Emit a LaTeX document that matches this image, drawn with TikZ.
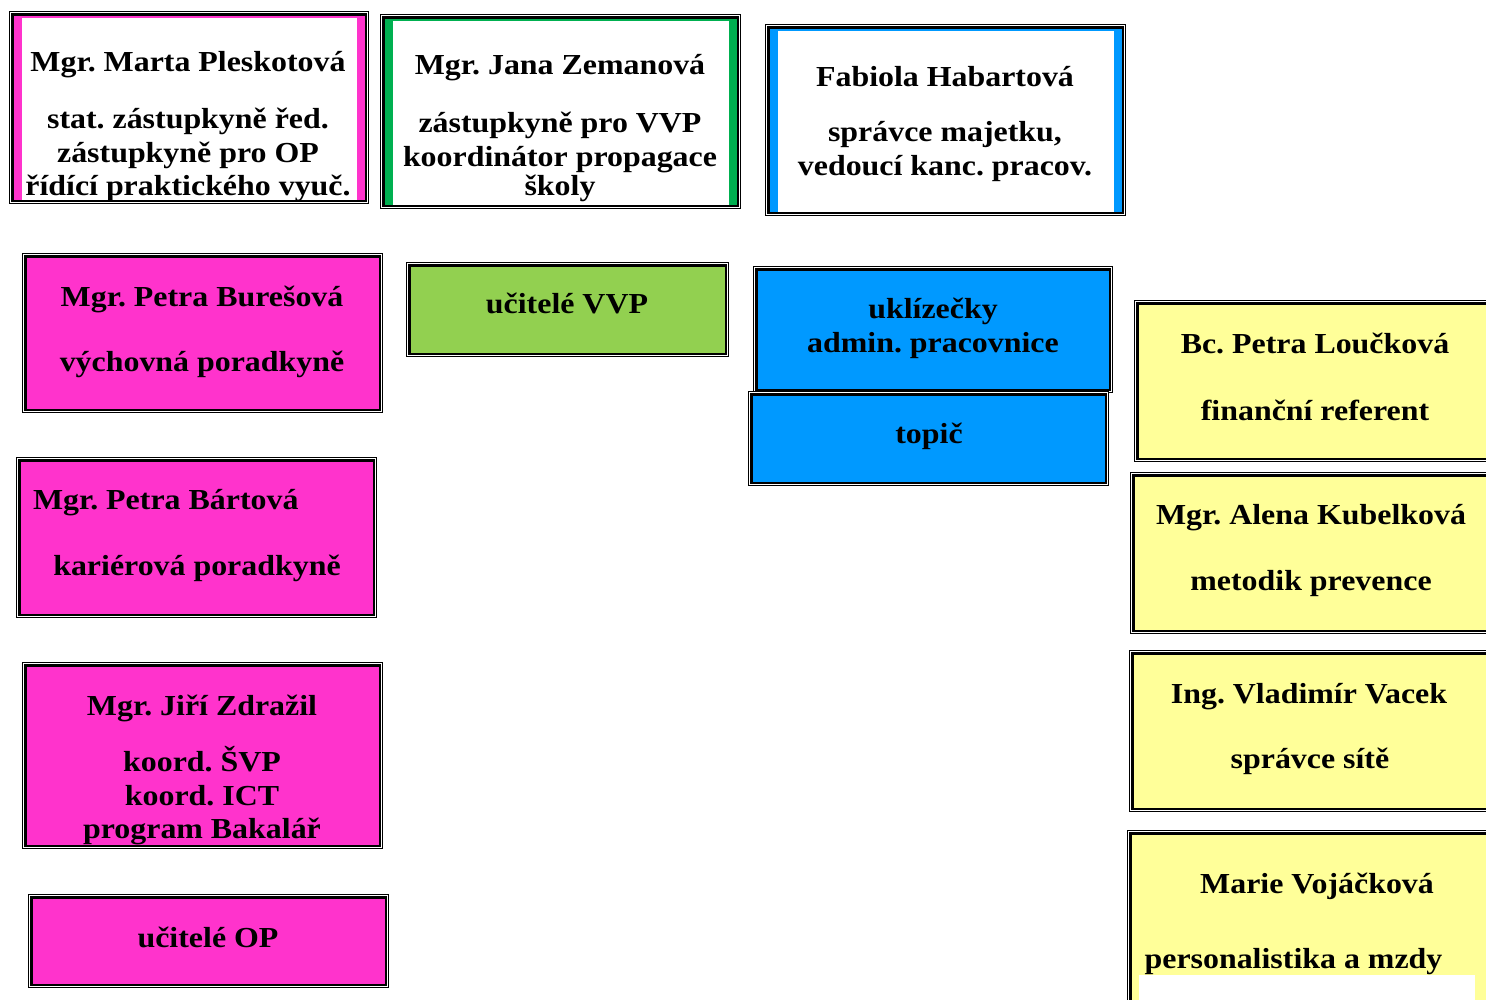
\documentclass[tikz,border=0pt]{standalone}
\usepackage{fontspec}
\setmainfont{Liberation Serif}[FakeStretch=1.1]
\frenchspacing
\definecolor{opink}{HTML}{FF33CC}
\definecolor{ogreen}{HTML}{92D050}
\definecolor{dgreen}{HTML}{00B050}
\definecolor{oblue}{HTML}{0099FF}
\definecolor{oyellow}{HTML}{FFFF99}
\tikzset{
  frame/.style={draw=black, line width=2.5pt, inner sep=0pt, outer sep=0pt},
  thinframe/.style={draw=black, line width=1pt, fill=white},
  txt/.style={inner sep=0pt, outer sep=0pt, anchor=base, font=\fontsize{29}{33}\selectfont\bfseries\frenchspacing},
}
\newcommand\orgbox[6]{%
  \draw[thinframe] ({#2+0.5},{#3+0.5}) rectangle ({#4-0.5},{#5-0.5});
  \node[frame, fill=#6, minimum width={#4-#2-6.5}, minimum height={#5-#3-6.5}] (#1) at ({(#2+#4)/2},{(#3+#5)/2}) {};
}
\newcommand\stripes[5]{%
  \fill[#5] ({#1+4.5},{#2+4.5}) rectangle ({#1+12.5},{#4-4.5});
  \fill[#5] ({#3-12.5},{#2+4.5}) rectangle ({#3-4.5},{#4-4.5});
  \fill[#5] ({#1+4.5},{#2+4.5}) rectangle ({#3-4.5},{#2+6.5});
}
\begin{document}
\begin{tikzpicture}[x=1pt,y=-1pt]
\useasboundingbox (0,0) rectangle (1486,999);
\clip (0,0) rectangle (1486,999);
% top row
\orgbox{b1}{9}{11}{369}{204}{white}
\stripes{9}{11}{369}{204}{opink}
\orgbox{b2}{380}{14}{741}{209}{white}
\stripes{380}{14}{741}{209}{dgreen}
\orgbox{b3}{765}{24}{1126}{216}{white}
\stripes{765}{24}{1126}{216}{oblue}
% left column
\orgbox{b4}{22}{253}{383}{413}{opink}
\orgbox{b5}{16}{457}{377}{618}{opink}
\orgbox{b6}{22}{662}{383}{849}{opink}
\orgbox{b7}{28}{894}{389}{988}{opink}
% middle
\orgbox{b8}{406}{262}{729}{357}{ogreen}
\orgbox{b9}{753}{266}{1113}{393}{oblue}
\orgbox{b10}{748}{391}{1109}{486}{oblue}
% right column
\orgbox{b11}{1134}{300}{1500}{462}{oyellow}
\orgbox{b12}{1130}{472}{1500}{634}{oyellow}
\orgbox{b13}{1129}{650}{1500}{812}{oyellow}
\orgbox{b14}{1127}{830}{1500}{1010}{oyellow}

% texts
\node[txt] (t1a) at (188,71) {Mgr. Marta Pleskotová};
\node[txt] (t1b) at (188,128) {stat. zástupkyně řed.};
\node[txt] (t1c) at (188,162) {zástupkyně pro OP};
\node[txt] (t1d) at (188,195) {řídící praktického vyuč.};

\node[txt] (t2a) at (560,74) {Mgr. Jana Zemanová};
\node[txt] (t2b) at (560,132) {zástupkyně pro VVP};
\node[txt] (t2c) at (560,166) {koordinátor propagace};
\node[txt] (t2d) at (560,195) {školy};

\node[txt] (t3a) at (945,86) {Fabiola Habartová};
\node[txt] (t3b) at (945,141) {správce majetku,};
\node[txt] (t3c) at (945,175) {vedoucí kanc. pracov.};

\node[txt] (t4a) at (202,306) {Mgr. Petra Burešová};
\node[txt] (t4b) at (202,371) {výchovná poradkyně};

\node[txt, anchor=base west] (t5a) at (33,509) {Mgr. Petra Bártová};
\node[txt] (t5b) at (197,575) {kariérová poradkyně};

\node[txt] (t6a) at (202,715) {Mgr. Jiří Zdražil};
\node[txt] (t6b) at (202,771) {koord. ŠVP};
\node[txt] (t6c) at (202,805) {koord. ICT};
\node[txt] (t6d) at (202,838) {program Bakalář};

\node[txt] (t7a) at (208,947) {učitelé OP};

\node[txt] (t8a) at (567,313) {učitelé VVP};

\node[txt] (t9a) at (933,318) {uklízečky};
\node[txt] (t9b) at (933,352) {admin. pracovnice};

\node[txt] (t10a) at (929,443) {topič};

\node[txt] (t11a) at (1315,353) {Bc. Petra Loučková};
\node[txt] (t11b) at (1315,420) {finanční referent};

\node[txt] (t12a) at (1311,524) {Mgr. Alena Kubelková};
\node[txt] (t12b) at (1311,590) {metodik prevence};

\node[txt] (t13a) at (1309,703) {Ing. Vladimír Vacek};
\node[txt] (t13b) at (1310,768) {správce sítě};

\node[txt] (t14a) at (1317,893) {Marie Vojáčková};
\node[txt] (t14b) at (1293.5,968) {personalistika a mzdy};
\fill[white] (1139,975) rectangle (1475,1000);
\end{tikzpicture}
\end{document}
